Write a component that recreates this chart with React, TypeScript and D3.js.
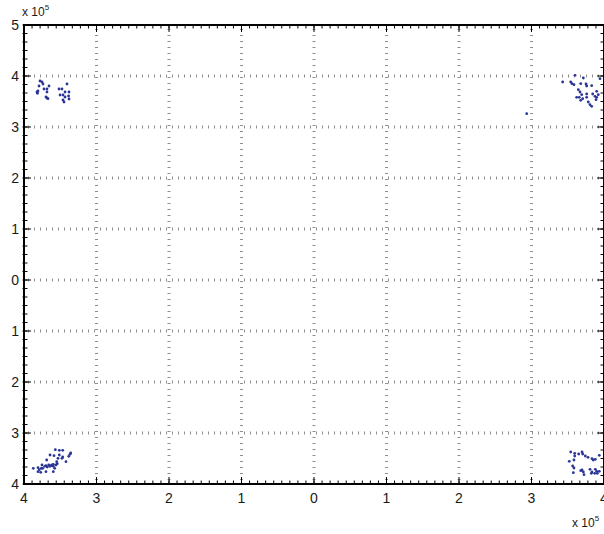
import React, { useRef, useEffect } from 'react';
import * as d3 from 'd3';

// values in units of 10^5
const xTicks = [-4, -3, -2, -1, 0, 1, 2, 3, 4];
const yTicks = [-4, -3, -2, -1, 0, 1, 2, 3, 4, 5];

const upperLeft = [
  [-3.779, 3.902], [-3.752, 3.882], [-3.738, 3.843], [-3.793, 3.804], [-3.724, 3.745],
  [-3.683, 3.745], [-3.655, 3.804], [-3.807, 3.706], [-3.821, 3.686], [-3.815, 3.662],
  [-3.697, 3.588], [-3.683, 3.569], [-3.669, 3.555], [-3.683, 3.686],
  [-3.517, 3.745], [-3.476, 3.745], [-3.407, 3.843], [-3.434, 3.686], [-3.379, 3.686],
  [-3.503, 3.627], [-3.462, 3.627], [-3.434, 3.588], [-3.462, 3.529], [-3.379, 3.549],
  [-3.385, 3.608], [-3.448, 3.49],
];

const upperRight = [
  [3.43, 3.882], [3.541, 3.882], [3.559, 3.849], [3.586, 3.829], [3.6, 4.014],
  [3.715, 3.961], [3.679, 3.849], [3.752, 3.843], [3.761, 3.804], [3.83, 3.81],
  [3.945, 3.947], [3.899, 3.7], [3.646, 3.731], [3.669, 3.686], [3.692, 3.633],
  [3.623, 3.582], [3.659, 3.582], [3.706, 3.555], [3.679, 3.524], [3.761, 3.647],
  [3.761, 3.582], [3.844, 3.647], [3.876, 3.602], [3.899, 3.582], [3.921, 3.633],
  [3.89, 3.535], [3.807, 3.437], [3.783, 3.49], [3.83, 3.406], [2.934, 3.261],
];

const lowerLeft = [
  [-3.872, -3.692], [-3.807, -3.68], [-3.807, -3.759], [-3.77, -3.771], [-3.789, -3.72],
  [-3.752, -3.627], [-3.742, -3.692], [-3.714, -3.653], [-3.697, -3.641], [-3.679, -3.667],
  [-3.659, -3.627], [-3.641, -3.653], [-3.632, -3.641], [-3.614, -3.627], [-3.596, -3.614],
  [-3.596, -3.653], [-3.687, -3.529], [-3.641, -3.431], [-3.586, -3.445], [-3.568, -3.327],
  [-3.513, -3.339], [-3.466, -3.339], [-3.513, -3.431], [-3.466, -3.471], [-3.549, -3.563],
  [-3.531, -3.496], [-3.559, -3.627], [-3.541, -3.602], [-3.577, -3.692], [-3.476, -3.496],
  [-3.421, -3.563], [-3.383, -3.457], [-3.366, -3.418], [-3.356, -3.392], [-3.697, -3.759],
  [-3.596, -3.759], [-3.761, -3.692],
];

const lowerRight = [
  [3.541, -3.373], [3.596, -3.398], [3.596, -3.451], [3.651, -3.412], [3.697, -3.373],
  [3.706, -3.412], [3.742, -3.451], [3.779, -3.476], [3.834, -3.504], [3.852, -3.529],
  [3.88, -3.516], [3.935, -3.437], [3.521, -3.555], [3.586, -3.529], [3.568, -3.647],
  [3.586, -3.686], [3.577, -3.778], [3.679, -3.739], [3.697, -3.725], [3.715, -3.765],
  [3.724, -3.818], [3.807, -3.712], [3.834, -3.765], [3.825, -3.79], [3.88, -3.712],
  [3.899, -3.751], [3.908, -3.79], [3.872, -3.79], [3.935, -3.751],
];

const App = () => {
  const svgRef = useRef(null);

  useEffect(() => {
    const width = 604;
    const height = 534;
    const margin = { top: 25, right: 0, bottom: 50, left: 24 };
    const w = width - margin.left - margin.right;
    const h = height - margin.top - margin.bottom;

    d3.select(svgRef.current).selectAll('*').remove();

    const svg = d3.select(svgRef.current)
      .attr('width', width)
      .attr('height', height)
      .append('g')
      .attr('transform', `translate(${margin.left},${margin.top})`);

    const x = d3.scaleLinear().domain([-4, 4]).range([0, w]);
    const y = d3.scaleLinear().domain([-4, 5]).range([h, 0]);

    const font = 'Liberation Sans, Arial, sans-serif';

    // dotted grid
    const grid = svg.append('g')
      .attr('stroke', '#8f8f8f')
      .attr('stroke-width', 3)
      .attr('stroke-dasharray', '1 5');

    grid.selectAll('.vgrid')
      .data(xTicks.slice(1, -1))
      .enter().append('line')
      .attr('x1', d => x(d)).attr('x2', d => x(d))
      .attr('y1', 0).attr('y2', h)
      .attr('stroke-dashoffset', -4);

    grid.selectAll('.hgrid')
      .data(yTicks.slice(1, -1))
      .enter().append('line')
      .attr('x1', 0).attr('x2', w)
      .attr('y1', d => y(d)).attr('y2', d => y(d))
      .attr('stroke-dashoffset', -4);

    // minor ticks
    const xMinor = d3.range(-4, 4.0001, 1 / 9);
    const yMinor = d3.range(-4, 5.0001, 1 / 6);

    const ticks = svg.append('g').attr('stroke', '#000').attr('stroke-width', 1);

    ticks.selectAll('.xm')
      .data(xMinor)
      .enter().append('g')
      .each(function (d) {
        const g = d3.select(this);
        g.append('line').attr('x1', x(d)).attr('x2', x(d)).attr('y1', h).attr('y2', h - 3.5);
        g.append('line').attr('x1', x(d)).attr('x2', x(d)).attr('y1', 0).attr('y2', 3.5);
      });

    ticks.selectAll('.ym')
      .data(yMinor)
      .enter().append('g')
      .each(function (d) {
        const g = d3.select(this);
        g.append('line').attr('x1', -1.5).attr('x2', 3.5).attr('y1', y(d)).attr('y2', y(d));
        g.append('line').attr('x1', w).attr('x2', w - 3.5).attr('y1', y(d)).attr('y2', y(d));
      });

    // major ticks
    ticks.selectAll('.xM')
      .data(xTicks)
      .enter().append('g')
      .each(function (d) {
        const g = d3.select(this);
        g.append('line').attr('x1', x(d)).attr('x2', x(d)).attr('y1', h).attr('y2', h - 7);
        g.append('line').attr('x1', x(d)).attr('x2', x(d)).attr('y1', 0).attr('y2', 7);
      });

    ticks.selectAll('.yM')
      .data(yTicks)
      .enter().append('g')
      .each(function (d) {
        const g = d3.select(this);
        g.append('line').attr('x1', 0).attr('x2', 7).attr('y1', y(d)).attr('y2', y(d));
        g.append('line').attr('x1', w).attr('x2', w - 7).attr('y1', y(d)).attr('y2', y(d));
      });

    // axis lines (box)
    svg.append('rect')
      .attr('x', 0).attr('y', 0)
      .attr('width', w).attr('height', h)
      .attr('fill', 'none')
      .attr('stroke', '#000')
      .attr('stroke-width', 2);

    // tick labels (signs dropped, as in the original)
    svg.selectAll('.xl')
      .data(xTicks)
      .enter().append('text')
      .attr('x', d => x(d))
      .attr('y', h + 19)
      .attr('text-anchor', 'middle')
      .attr('font-family', font)
      .attr('font-size', 14)
      .attr('fill', '#1a1a1a')
      .text(d => Math.abs(d));

    svg.selectAll('.yl')
      .data(yTicks)
      .enter().append('text')
      .attr('x', -5)
      .attr('y', d => y(d) + 5)
      .attr('text-anchor', 'end')
      .attr('font-family', font)
      .attr('font-size', 14)
      .attr('fill', '#1a1a1a')
      .text(d => Math.abs(d));

    // exponent labels
    const expY = svg.append('text')
      .attr('x', -2).attr('y', -9)
      .attr('font-family', font).attr('font-size', 12).attr('fill', '#1a1a1a');
    expY.append('tspan').text('x 10');
    expY.append('tspan').attr('font-size', 8).attr('dy', -6).text('5');

    const expX = svg.append('text')
      .attr('x', w - 32).attr('y', h + 43)
      .attr('font-family', font).attr('font-size', 12).attr('fill', '#1a1a1a');
    expX.append('tspan').text('x 10');
    expX.append('tspan').attr('font-size', 8).attr('dy', -6).text('5');

    // points
    const points = [...upperLeft, ...upperRight, ...lowerLeft, ...lowerRight];
    svg.selectAll('.pt')
      .data(points)
      .enter().append('circle')
      .attr('cx', d => x(d[0]))
      .attr('cy', d => y(d[1]))
      .attr('r', 1.4)
      .attr('fill', '#2b3595');
  }, []);

  return (
    <svg ref={svgRef} style={{ position: 'absolute', left: 0, top: 0 }}></svg>
  );
};

export default App;
